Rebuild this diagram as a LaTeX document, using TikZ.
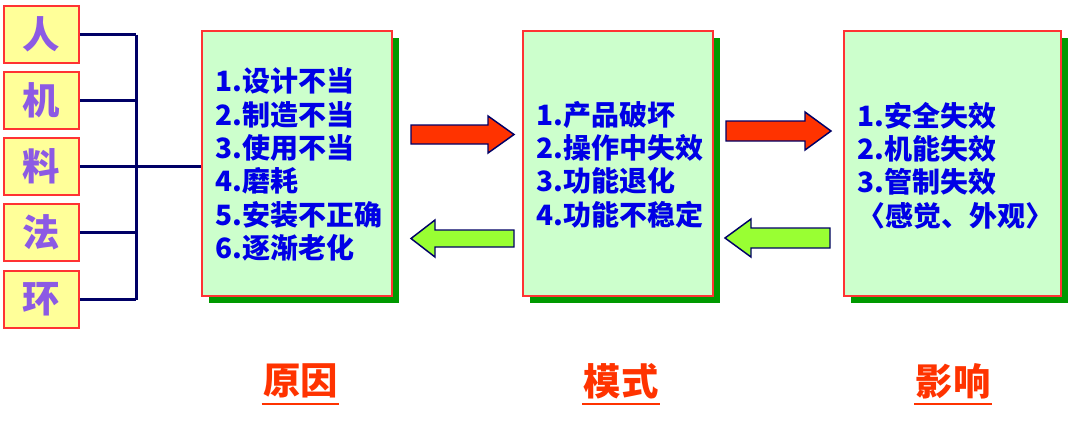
\documentclass[tikz,border=0pt]{standalone}
\usepackage{fontspec}
\setmainfont{Noto Sans CJK SC}
\usetikzlibrary{shadows}
\definecolor{boxred}{RGB}{255,51,51}
\definecolor{ylw}{RGB}{255,255,153}
\definecolor{lgreen}{RGB}{204,255,204}
\definecolor{shgreen}{RGB}{0,153,0}
\definecolor{purp}{RGB}{140,90,228}
\definecolor{txtblue}{RGB}{0,0,230}
\definecolor{navy}{RGB}{0,0,102}
\definecolor{arrred}{RGB}{255,51,0}
\definecolor{arrgreen}{RGB}{153,255,51}
\definecolor{lblred}{RGB}{255,51,0}
\tikzset{
  factor/.style={draw=boxred,line width=1.5pt,fill=ylw,minimum width=56.25pt,minimum height=42.75pt,inner sep=0pt,
    font=\fontsize{28}{30}\selectfont\bfseries,text=purp},
  bigbox/.style={draw=boxred,line width=1.1pt,fill=lgreen,minimum height=198.75pt,inner sep=0pt,
    drop shadow={shadow xshift=5.25pt,shadow yshift=-5.25pt,fill=shgreen,opacity=1}},
  boxtext/.style={anchor=west,align=left,inner sep=0pt,text=txtblue,
    font=\fontsize{21}{25}\selectfont\bfseries},
  bus/.style={draw=navy,line width=2.25pt},
  fatarrow/.style={draw=navy,line width=1.1pt,line join=miter},
  lbl/.style={inner sep=0pt,text=lblred,font=\fontsize{28}{30}\selectfont\bfseries},
  uline/.style={draw=lblred,line width=1.5pt}
}
\begin{document}
\begin{tikzpicture}[x=0.75pt,y=-0.75pt]
\useasboundingbox (0,0) rectangle (1080,426);
% factor boxes
\node[factor] (ren)  at (41.5,34.5)  {人};
\node[factor] (ji)   at (41.5,100)   {机};
\node[factor] (liao) at (41.5,166.5) {料};
\node[factor] (fa)   at (41.5,232.5) {法};
\node[factor] (huan) at (41.5,299.5) {环};
% main boxes
\node[bigbox,minimum width=142.5pt] (cause)  at (297,163.5) {};
\node[bigbox,minimum width=142.5pt] (mode)   at (618,163.5) {};
\node[bigbox,minimum width=162.75pt] (effect) at (952.5,163.5) {};
% bus
\coordinate (bx) at (136,0);
\draw[bus] (ren.east) -- (ren.east -| bx);
\draw[bus] (ji.east) -- (ji.east -| bx);
\draw[bus] (fa.east) -- (fa.east -| bx);
\draw[bus] (huan.east) -- (huan.east -| bx);
\draw[bus] (ren.east -| bx) -- (huan.east -| bx);
\draw[bus] (liao.east) -- (cause.west |- liao.east);
% texts
\node[boxtext] (t1) at (215,164.5) {1.设计不当\\2.制造不当\\3.使用不当\\4.磨耗\\5.安装不正确\\6.逐渐老化};
\node[boxtext] (t2) at (536,164.5) {1.产品破坏\\2.操作中失效\\3.功能退化\\4.功能不稳定};
\node[boxtext] (t3) at (857,165.5) {1.安全失效\\2.机能失效\\3.管制失效\\〈感觉、外观〉};
% arrows
\draw[fatarrow,fill=arrred] (411,125) -- (488,125) -- (488,116) -- (514,134.5) -- (488,153) -- (488,144) -- (411,144) -- cycle;
\draw[fatarrow,fill=arrgreen] (514,230) -- (435,230) -- (435,220) -- (411,238.5) -- (435,257) -- (435,247) -- (514,247) -- cycle;
\draw[fatarrow,fill=arrred] (726,121) -- (805,121) -- (805,112) -- (831,131) -- (805,150) -- (805,141) -- (726,141) -- cycle;
\draw[fatarrow,fill=arrgreen] (830,228) -- (751,228) -- (751,219) -- (725,238) -- (751,257) -- (751,248) -- (830,248) -- cycle;
% labels
\node[lbl] (l1) at (300.5,381) {原因};
\node[lbl] (l2) at (621,381) {模式};
\node[lbl] (l3) at (953,381) {影响};
\draw[uline] ([yshift=-4pt,xshift=-1pt]l1.south west) -- ([yshift=-4pt,xshift=1pt]l1.south east);
\draw[uline] ([yshift=-4pt,xshift=-1pt]l2.south west) -- ([yshift=-4pt,xshift=1pt]l2.south east);
\draw[uline] ([yshift=-4pt,xshift=-1pt]l3.south west) -- ([yshift=-4pt,xshift=1pt]l3.south east);
\end{tikzpicture}
\end{document}
